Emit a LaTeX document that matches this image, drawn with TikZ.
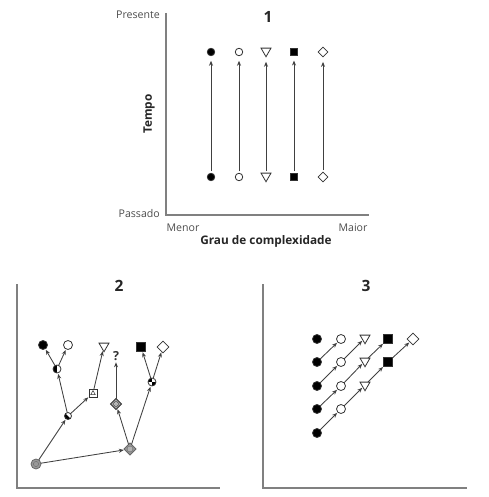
\documentclass[tikz,border=0pt]{standalone}
\usepackage{fontspec}
\setmainfont{Open Sans}
\usetikzlibrary{shapes.geometric,arrows.meta}
\begin{document}
\begin{tikzpicture}[x=1pt,y=-1pt,
  axis/.style={draw=black!50,line width=1.4pt},
  arr/.style={-{Stealth[length=5pt,width=4pt]},draw=black!75,line width=0.85pt,shorten >=1pt},
  sym/.style={inner sep=0pt,outer sep=0pt,line width=0.8pt,draw=black!80},
  fc/.style={sym,circle,fill=black,minimum size=\symsz},
  oc/.style={sym,circle,fill=white,minimum size=\symsz},
  tri/.style={sym,regular polygon,regular polygon sides=3,shape border rotate=180,fill=white,minimum size=\trisz},
  sq/.style={sym,rectangle,fill=black,minimum size=0.95*\symsz},
  dia/.style={sym,diamond,fill=white,minimum size=1.3*\symsz},
  lbl/.style={font=\fontsize{10.6}{12}\selectfont,text=black!70,inner sep=0pt},
  blbl/.style={font=\fontsize{11.8}{14}\selectfont\bfseries,text=black!85,inner sep=0pt},
  num/.style={font=\fontsize{15.5}{18}\selectfont\bfseries,text=black!85,inner sep=0pt}
]
\useasboundingbox (0,0) rectangle (488,497);
\def\trisz{11.5pt}
% ---------------- Panel 1 ----------------
\def\symsz{7.5pt}
\coordinate (a1top) at (166,13);
\coordinate (a1org) at (166,215);
\coordinate (a1end) at (369,215);
\draw[axis] (a1top) -- (a1org) -- (a1end);
\node[num] (n1) at (268,17) {1};
\node[lbl,anchor=east] (pres) at (160,15) {Presente};
\node[lbl,anchor=east] (pass) at (160,214) {Passado};
\node[lbl] (menor) at (183,228) {Menor};
\node[lbl] (maior) at (353,228) {Maior};
\node[blbl,rotate=90] (tempo) at (149,114) {Tempo};
\node[blbl] (grau) at (266,241) {Grau de complexidade};
\node[fc] (p1t1) at (211,52) {};
\node[oc] (p1t2) at (239,52) {};
\node[tri] (p1t3) at (266,51) {};
\node[sq] (p1t4) at (294,52) {};
\node[dia] (p1t5) at (323,52) {};
\node[fc] (p1b1) at (211,177) {};
\node[oc] (p1b2) at (239,177) {};
\node[tri] (p1b3) at (266,176) {};
\node[sq] (p1b4) at (294,177) {};
\node[dia] (p1b5) at (323,177) {};
\foreach \i in {1,...,5}{
  \draw[arr,shorten >=5pt,shorten <=2pt] (p1b\i) -- (p1t\i);
}
% ---------------- Panel 2 ----------------
\def\symsz{9pt}
\coordinate (a2top) at (17,284);
\coordinate (a2org) at (17,488);
\coordinate (a2end) at (220,488);
\draw[axis] (a2top) -- (a2org) -- (a2end);
\node[num] (n2) at (119,286) {2};
\node[fc] (q1) at (43,345) {};
\node[oc] (q2) at (68,345) {};
\node[tri] (q3) at (104,346) {};
\node[font=\fontsize{12.5}{14}\selectfont\bfseries,text=black!80,inner sep=0.5pt] (q4) at (116,356) {?};
\node[sq] (q5) at (141,347) {};
\node[dia] (q6) at (163,347) {};
% intermediate nodes
\node[sym,circle,fill=white,minimum size=8pt,
  path picture={\fill[black] (path picture bounding box.north) rectangle (path picture bounding box.south west);}] (h1) at (57,369) {};
\node[sym,rectangle,fill=white,minimum size=8pt,
  path picture={\draw[line width=0.5pt] ([shift={(-2.3pt,-1.6pt)}]path picture bounding box.center) -- ([shift={(2.3pt,-1.6pt)}]path picture bounding box.center) -- ([shift={(0pt,2.4pt)}]path picture bounding box.center) -- cycle;}] (h2) at (93,393) {};
\node[sym,circle,fill=white,minimum size=7pt,
  path picture={\fill[black] (path picture bounding box.north west) -- (path picture bounding box.south west) -- (path picture bounding box.south east) -- cycle;}] (h3) at (68,416) {};
\node[sym,diamond,fill=black!35,minimum size=11pt,
  path picture={\draw[line width=0.5pt,fill=black!20] (path picture bounding box.center) circle (2.4pt); \fill (path picture bounding box.center) circle (1pt);}] (h4) at (116,404) {};
\node[sym,circle,fill=white,minimum size=8pt,
  path picture={\fill[black] (path picture bounding box.north west) rectangle (path picture bounding box.center); \fill[black] (path picture bounding box.center) rectangle (path picture bounding box.south east);}] (h5) at (152,382) {};
\node[sym,circle,fill=black!40,draw=black!60,minimum size=10pt,
  path picture={\draw[black!60,line width=0.4pt] (path picture bounding box.center) circle (2.6pt);}] (r1) at (36,464) {};
\node[sym,diamond,fill=black!40,draw=black!60,minimum size=12pt,
  path picture={\draw[black!60,fill=black!30,line width=0.4pt] (path picture bounding box.center) circle (3pt);}] (r2) at (130,449) {};
\draw[arr] (r1) -- (r2);
\draw[arr] (r1) -- (h3);
\draw[arr] (h3) -- (h1);
\draw[arr] (h3) -- (h2);
\draw[arr] (h2) -- (q3);
\draw[arr] (h1) -- (q1);
\draw[arr] (h1) -- (q2);
\draw[arr] (r2) -- (h4);
\draw[arr] (r2) -- (h5);
\draw[arr] (h4) -- (q4);
\draw[arr] (h5) -- (q5);
\draw[arr] (h5) -- (q6);
% ---------------- Panel 3 ----------------
\def\symsz{9pt}
\coordinate (a3top) at (263,284);
\coordinate (a3org) at (263,488);
\coordinate (a3end) at (467,488);
\draw[axis] (a3top) -- (a3org) -- (a3end);
\node[num] (n3) at (366,286) {3};
\node[fc] (f1) at (317,339) {};
\node[fc] (f2) at (317,362) {};
\node[fc] (f3) at (317,386) {};
\node[fc] (f4) at (317,409) {};
\node[fc] (f5) at (317,433) {};
\node[oc] (o1) at (341,339) {};
\node[oc] (o2) at (341,362) {};
\node[oc] (o3) at (341,386) {};
\node[oc] (o4) at (341,409) {};
\node[tri] (t1) at (365,338) {};
\node[tri] (t2) at (365,361) {};
\node[tri] (t3) at (365,385) {};
\node[sq] (s1) at (388,339) {};
\node[sq] (s2) at (388,362) {};
\node[dia] (d1) at (413,339) {};
\draw[arr] (f2) -- (o1);
\draw[arr] (f3) -- (o2);
\draw[arr] (f4) -- (o3);
\draw[arr] (f5) -- (o4);
\draw[arr] (o2) -- (t1);
\draw[arr] (o3) -- (t2);
\draw[arr] (o4) -- (t3);
\draw[arr] (t2) -- (s1);
\draw[arr] (t3) -- (s2);
\draw[arr] (s2) -- (d1);
\end{tikzpicture}
\end{document}
